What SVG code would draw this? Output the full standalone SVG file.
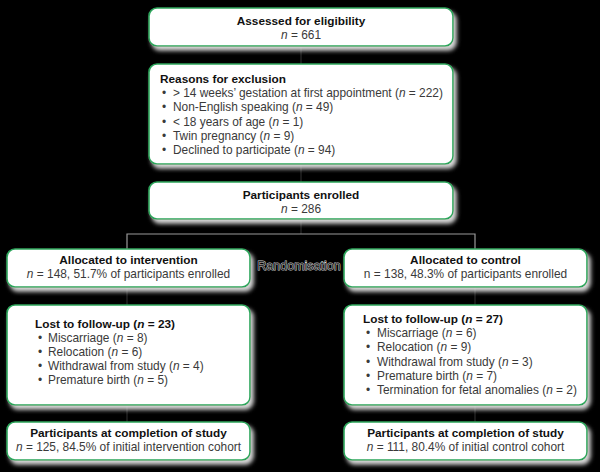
<svg xmlns="http://www.w3.org/2000/svg" width="600" height="472" viewBox="0 0 600 472">
<defs>
<filter id="sh" x="-10%" y="-30%" width="125%" height="170%">
<feDropShadow dx="3" dy="4" stdDeviation="2" flood-color="#d8d8d8" flood-opacity="1"/>
</filter>
<style>
.box{fill:#fff;stroke:#2aa55a;stroke-width:1.6;filter:url(#sh)}
.t{font-family:"Liberation Sans",Arial,sans-serif;font-size:11.8px;font-weight:bold;fill:#111}
.b{font-family:"Liberation Sans",Arial,sans-serif;font-size:11.9px;fill:#3a3a3a}
.c{text-anchor:middle}
.i{font-style:italic}
.ln{stroke:#2a2a2a;stroke-width:1.2;fill:none}
.rl{stroke:#9a9a9a;stroke-width:1.2;fill:none}
.rand{font-family:"Liberation Sans",Arial,sans-serif;font-size:12.5px;fill:#2a2a2a;stroke:#d0d0d0;stroke-width:0.9;paint-order:stroke}
</style>
</defs>
<rect width="600" height="472" fill="#000"/>

<g id="connectors">
<line class="ln" x1="301" y1="46" x2="301" y2="64"/>
<line class="ln" x1="301" y1="164" x2="301" y2="182"/>
<line class="ln" x1="301" y1="219" x2="301" y2="234"/>
<polyline class="rl" points="127,249 127,234 475,234 475,249"/>
<line class="ln" x1="127" y1="287" x2="127" y2="305"/>
<line class="ln" x1="127" y1="405" x2="127" y2="422"/>
<line class="ln" x1="475" y1="287" x2="475" y2="305"/>
<line class="ln" x1="475" y1="405" x2="475" y2="422"/>
<text class="rand c" x="299" y="270">Randomisation</text>
</g>

<g id="assessed">
<rect class="box" x="149" y="8" width="304" height="38" rx="8"/>
<text class="t c" x="301" y="25">Assessed for eligibility</text>
<text class="b c" x="301" y="39"><tspan class="i">n</tspan> = 661</text>
</g>

<g id="exclusion">
<rect class="box" x="149" y="64" width="304" height="100" rx="8"/>
<text class="t" x="160" y="83">Reasons for exclusion</text>
<g class="b">
<text x="162" y="97">•</text><text x="173" y="97">&gt; 14 weeks’ gestation at first appointment (<tspan class="i">n</tspan> = 222)</text>
<text x="162" y="111.3">•</text><text x="173" y="111.3">Non-English speaking (<tspan class="i">n</tspan> = 49)</text>
<text x="162" y="125.5">•</text><text x="173" y="125.5">&lt; 18 years of age (<tspan class="i">n</tspan> = 1)</text>
<text x="162" y="139.8">•</text><text x="173" y="139.8">Twin pregnancy (<tspan class="i">n</tspan> = 9)</text>
<text x="162" y="154">•</text><text x="173" y="154">Declined to participate (<tspan class="i">n</tspan> = 94)</text>
</g>
</g>

<g id="enrolled">
<rect class="box" x="149" y="182" width="304" height="37" rx="8"/>
<text class="t c" x="301" y="199">Participants enrolled</text>
<text class="b c" x="301" y="213"><tspan class="i">n</tspan> = 286</text>
</g>

<g id="alloc-intervention">
<rect class="box" x="7" y="249" width="243" height="38" rx="8"/>
<text class="t c" x="128.5" y="264">Allocated to intervention</text>
<text class="b c" x="128.5" y="278"><tspan class="i">n</tspan> = 148, 51.7% of participants enrolled</text>
</g>

<g id="alloc-control">
<rect class="box" x="344" y="249" width="243" height="38" rx="8"/>
<text class="t c" x="465.5" y="264">Allocated to control</text>
<text class="b c" x="465.5" y="278">n = 138, 48.3% of participants enrolled</text>
</g>

<g id="lost-intervention">
<rect class="box" x="7" y="305" width="243" height="100" rx="8"/>
<text class="t" x="35" y="328">Lost to follow-up (<tspan class="i">n</tspan> = 23)</text>
<g class="b">
<text x="38" y="342">•</text><text x="48" y="342">Miscarriage (<tspan class="i">n</tspan> = 8)</text>
<text x="38" y="356">•</text><text x="48" y="356">Relocation (<tspan class="i">n</tspan> = 6)</text>
<text x="38" y="370">•</text><text x="48" y="370">Withdrawal from study (<tspan class="i">n</tspan> = 4)</text>
<text x="38" y="384">•</text><text x="48" y="384">Premature birth (<tspan class="i">n</tspan> = 5)</text>
</g>
</g>

<g id="lost-control">
<rect class="box" x="344" y="305" width="243" height="100" rx="8"/>
<text class="t" x="363" y="323">Lost to follow-up (<tspan class="i">n</tspan> = 27)</text>
<g class="b">
<text x="366" y="337">•</text><text x="377" y="337">Miscarriage (<tspan class="i">n</tspan> = 6)</text>
<text x="366" y="351.3">•</text><text x="377" y="351.3">Relocation (<tspan class="i">n</tspan> = 9)</text>
<text x="366" y="365.5">•</text><text x="377" y="365.5">Withdrawal from study (<tspan class="i">n</tspan> = 3)</text>
<text x="366" y="379.8">•</text><text x="377" y="379.8">Premature birth (<tspan class="i">n</tspan> = 7)</text>
<text x="366" y="394">•</text><text x="377" y="394">Termination for fetal anomalies (<tspan class="i">n</tspan> = 2)</text>
</g>
</g>

<g id="complete-intervention">
<rect class="box" x="7" y="422" width="243" height="38" rx="8"/>
<text class="t c" x="128.5" y="437">Participants at completion of study</text>
<text class="b c" x="128.5" y="451"><tspan class="i">n</tspan> = 125, 84.5% of initial intervention cohort</text>
</g>

<g id="complete-control">
<rect class="box" x="344" y="422" width="243" height="38" rx="8"/>
<text class="t c" x="465.5" y="437">Participants at completion of study</text>
<text class="b c" x="465.5" y="451"><tspan class="i">n</tspan> = 111, 80.4% of initial control cohort</text>
</g>
</svg>
